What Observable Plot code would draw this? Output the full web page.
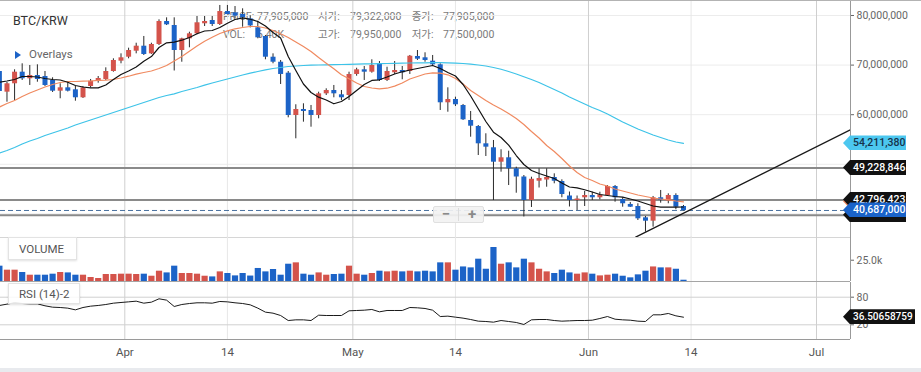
<!DOCTYPE html>
<html><head><meta charset="utf-8">
<script src="https://cdn.jsdelivr.net/npm/d3@7"></script>
<script src="https://cdn.jsdelivr.net/npm/@observablehq/plot@0.6"></script>
<style>
html,body{margin:0;padding:0;background:#fff;}
#chart{position:relative;width:921px;height:372px;overflow:hidden;font-family:Roboto,"Noto Sans CJK KR",sans-serif;}
#chart .abs{position:absolute;white-space:nowrap;}
#chart svg{position:absolute;left:0;}
.info{color:#7a7a7a;font-size:10.5px;line-height:14px;}
.tag{position:absolute;height:15px;line-height:15px;font-size:10.5px;font-weight:500;padding-left:10px;box-sizing:border-box;white-space:nowrap;clip-path:polygon(0 50%,7px 0,100% 0,100% 100%,7px 100%);}
.panelLabel{position:absolute;left:8px;background:rgba(255,255,255,0.85);border:1px solid #e3e3e3;box-shadow:0 1px 2px rgba(0,0,0,0.12);color:#555;font-size:11.5px;box-sizing:border-box;padding-left:10px;}
</style></head>
<body><div id="chart"></div>
<script>
// ---- data (prices in millions KRW, volume in thousands) ----
const open = [68.71,64.54,66.23,68.57,67.24,67.90,67.70,66.90,64.74,65.42,
65.02,63.41,65.69,66.75,67.10,68.71,70.79,71.59,72.80,73.81,
72.27,74.15,78.79,77.98,72.94,75.30,76.31,78.33,78.99,78.18,
80.80,80.54,80.20,79.322,77.52,75.77,71.59,70.58,68.37,59.84,
61.05,60.85,59.84,64.21,64.88,64.01,63.87,68.11,69.05,68.57,
70.26,66.90,68.45,68.91,68.71,71.73,71.47,70.79,70.06,62.40,
63.06,61.86,58.83,57.62,54.13,53.33,50.42,51.31,49.09,47.44,
42.70,46.59,46.83,47.34,46.53,43.61,42.70,43.25,43.71,43.25,
43.71,45.52,42.90,41.90,41.49,39.21,38.53,43.25,42.60,43.71,
41.49];
const high = [69.31,66.49,69.05,70.26,69.92,70.06,68.71,67.44,66.23,66.55,
65.69,65.69,67.10,67.70,69.45,71.27,72.27,73.41,74.41,75.77,
74.41,79.13,79.53,79.53,75.42,76.63,79.80,79.80,79.80,82.02,
82.02,81.81,81.35,79.95,78.85,75.97,72.27,70.93,68.71,62.00,
62.20,61.86,64.54,65.22,65.89,64.88,68.57,69.37,69.72,71.07,
70.72,69.57,70.72,69.72,71.94,72.94,72.48,71.94,70.26,65.42,
63.53,62.06,60.65,57.82,56.15,54.80,52.93,52.64,49.42,47.74,
47.40,49.09,49.09,48.08,46.87,44.41,43.61,44.52,44.37,44.37,
45.72,45.72,43.25,42.30,42.04,39.48,43.51,44.72,44.05,44.05,
41.70];
const low = [64.48,62.52,62.86,66.90,65.89,66.55,65.69,64.48,63.21,64.58,
62.72,63.27,65.42,66.35,66.90,68.57,70.26,71.27,72.27,71.94,
72.14,73.95,77.98,68.81,70.58,73.49,76.11,77.78,77.78,77.98,
80.10,79.33,77.64,77.50,75.30,71.07,70.26,66.09,59.37,55.14,
58.49,57.48,59.17,63.87,63.41,62.86,62.86,67.76,66.90,68.37,
66.69,66.69,68.11,67.04,68.11,70.93,70.58,69.78,60.85,60.50,
61.65,58.83,55.46,51.77,51.57,42.70,48.41,45.72,44.17,39.38,
41.29,45.22,45.38,46.07,43.25,41.39,40.69,41.49,42.70,42.84,
43.51,42.36,41.35,41.29,38.67,36.31,37.32,42.16,42.04,40.83,
40.60];
const close = [64.67,66.23,68.57,67.24,67.90,67.10,65.89,64.74,65.42,64.74,
63.41,65.42,66.75,67.30,68.71,70.93,71.47,72.94,73.81,72.14,
74.15,78.79,78.12,72.94,75.30,76.31,78.53,78.79,78.18,80.80,
80.20,79.86,79.53,77.905,75.50,71.59,70.58,68.11,59.84,61.05,
60.65,59.84,64.21,64.88,64.21,63.41,68.11,69.05,68.57,69.92,
66.90,68.71,68.91,68.45,71.79,71.19,70.93,70.06,62.40,63.06,
62.00,58.97,57.68,54.13,53.45,50.42,51.31,49.09,47.44,42.70,
46.98,47.14,47.34,46.59,43.91,42.70,43.00,43.71,43.25,43.81,
45.52,43.25,42.04,41.35,39.01,38.53,43.25,42.70,43.71,41.35,
40.687];
const volume = [18.0,13.3,13.3,10.6,7.4,7.4,7.4,8.6,10.6,10.1,
7.4,7.4,4.7,3.5,8.2,8.2,8.6,8.6,8.2,8.6,
6.2,12.1,10.1,18.0,9.4,9.4,8.6,6.2,5.4,11.3,
9.4,6.6,9.4,6.4,15.3,11.3,14.1,7.4,20.3,21.9,
8.6,7.4,10.1,7.4,8.2,8.6,18.0,8.6,7.4,9.4,
12.1,11.3,12.1,11.3,12.1,11.3,12.1,11.3,21.9,21.9,
13.3,17.1,16.0,26.2,14.4,39.9,20.3,21.9,16.0,26.2,
21.9,14.4,11.3,9.4,13.3,10.1,8.6,10.1,8.6,6.6,
7.4,8.6,6.2,4.3,7.8,12.1,17.1,16.0,16.0,14.4,
1.5];
const ma5 = [66.55,66.79,67.10,67.70,67.70,67.60,67.30,67.10,67.00,66.55,
65.89,65.58,65.42,65.42,65.99,67.10,68.11,68.81,69.62,70.79,
71.73,73.55,74.50,74.62,75.02,75.57,76.31,76.87,76.98,77.58,
78.45,79.19,79.53,79.25,78.79,77.88,76.57,75.46,71.73,68.91,
66.19,64.48,63.53,62.96,62.20,62.66,63.67,64.88,66.09,66.90,
67.04,67.60,68.21,68.65,69.01,69.31,69.62,69.92,69.31,68.51,
67.80,66.09,63.77,61.19,58.63,56.47,55.40,53.85,51.77,49.96,
48.75,48.15,47.64,47.14,46.23,45.42,45.26,44.86,44.41,43.91,
43.71,43.51,43.37,43.00,42.60,42.10,41.59,41.35,41.35,41.35,
41.39];
const ma20 = [61.55,62.26,62.86,63.67,64.38,64.98,65.58,66.09,66.49,66.69,
66.69,66.75,66.79,66.90,66.96,67.10,67.40,67.76,68.17,68.51,
68.81,69.31,69.92,70.83,71.73,72.80,73.85,74.82,75.62,76.37,
76.91,77.32,77.58,77.78,77.78,77.48,76.98,76.31,75.57,74.66,
73.75,72.74,71.53,70.38,69.25,68.04,67.24,66.39,65.69,65.38,
65.22,65.34,65.75,66.39,67.20,67.70,68.21,68.45,68.37,68.04,
67.30,66.19,64.88,63.87,62.86,61.95,61.15,60.24,59.23,58.02,
56.61,55.30,53.79,52.58,51.17,49.66,48.35,47.34,46.74,46.03,
45.63,45.02,44.62,44.22,43.81,43.51,43.21,43.00,42.84,42.60,
42.44];
const ma60 = [52.28,52.78,53.39,54.09,54.70,55.20,55.81,56.31,56.81,57.32,
57.92,58.43,58.93,59.44,59.94,60.44,60.95,61.45,61.96,62.46,
62.96,63.47,63.87,64.21,64.67,65.08,65.48,65.95,66.39,66.79,
67.20,67.60,68.01,68.37,68.71,69.05,69.31,69.52,69.72,69.82,
69.92,69.98,70.02,70.06,70.10,70.12,70.16,70.20,70.24,70.26,
70.30,70.32,70.36,70.38,70.42,70.44,70.46,70.48,70.48,70.46,
70.40,70.32,70.18,70.02,69.82,69.52,69.17,68.71,68.21,67.64,
67.10,66.49,65.79,65.08,64.38,63.57,62.86,62.16,61.45,60.85,
60.14,59.33,58.53,57.82,57.12,56.51,55.91,55.40,54.90,54.50,
54.21138];
const rsi = [62.0,64.9,67.8,66.3,65.6,65.6,61.3,58.3,57.6,56.2,
52.5,57.6,60.5,62.0,64.1,67.0,68.5,69.9,71.4,67.0,
69.2,76.5,73.6,59.8,64.1,66.3,67.8,67.8,67.0,70.7,
69.9,67.8,66.3,63.4,56.2,47.5,45.3,40.2,29.3,30.8,
30.8,29.3,40.9,40.2,40.2,40.2,50.4,51.1,51.8,53.3,
48.2,51.1,51.1,51.1,57.6,56.9,55.5,51.8,38.0,38.8,
36.6,34.5,31.5,27.9,27.2,25.7,29.3,27.2,25.0,20.7,
30.8,31.5,31.5,29.3,27.9,28.6,29.3,29.3,30.0,33.7,
38.0,32.2,30.8,30.0,27.9,27.2,41.7,41.7,44.6,39.5,
36.50658759];
const levels = [49228846, 42796423, 39740000];
const lastPrice = 40687000;
const trendDates = ["2021-06-07T05:00Z", "2021-07-05T12:00Z"];
const trendValues = [35.31, 56.97];
const tickDates = ["2021-04-01T00:00Z","2021-04-14T12:00Z","2021-05-01T00:00Z","2021-05-14T12:00Z","2021-06-01T00:00Z","2021-06-14T12:00Z","2021-07-01T00:00Z"];
const tickLabels = ["Apr","14","May","14","Jun","14","Jul"];
const priceTicks = [60e6, 70e6, 80e6];
const priceGrid = [40e6, 50e6, 60e6, 70e6, 80e6];
const volumeTicks = [25000];
const rsiTicks = [20, 80];
const hoverIndex = 33;

// ---- build ----
const DAY = 864e5;
const firstCandle = Date.UTC(2021, 2, 15, 12);
const candles = open.map((o, i) => ({
  date: new Date(firstCandle + i * DAY),
  open: o * 1e6, high: high[i] * 1e6, low: low[i] * 1e6, close: close[i] * 1e6,
  volume: volume[i] * 1e3, rsi: rsi[i],
  ma5: ma5[i] * 1e6, ma20: ma20[i] * 1e6, ma60: ma60[i] * 1e6,
  up: close[i] >= o
}));
const ups = candles.filter(d => d.up), downs = candles.filter(d => !d.up);
const trend = trendDates.map((d, i) => ({date: new Date(d), value: trendValues[i] * 1e6}));

const RED = "#d4534b", BLUE = "#1c63c7", CYAN = "#3dc3e8", ORANGE = "#f08a60";
const xDomain = [new Date(Date.UTC(2021, 3, 1) - 16.353 * DAY), new Date(Date.UTC(2021, 6, 1) + 4.4725 * DAY)];
const tickTimes = tickDates.map(s => new Date(s));
const labelByTime = new Map(tickTimes.map((d, i) => [+d, tickLabels[i]]));
const monthLines = tickTimes.filter((d, i) => i % 2 === 0);
const midLines = tickTimes.filter((d, i) => i % 2 === 1);
const style = {background: "transparent", fontFamily: "Roboto, sans-serif"};
const fmt = d3.format(",");
const gridX = () => [Plot.ruleX(midLines, {stroke: "#e7e7e7"}), Plot.ruleX(monthLines, {stroke: "#cfcfcf"})];

const priceDomain = [35.24e6, 83.024e6];
const price = Plot.plot({
  width: 921, height: 238, marginLeft: 0, marginRight: 71, marginTop: 0, marginBottom: 1, style,
  x: {type: "utc", domain: xDomain, axis: null},
  y: {domain: priceDomain, axis: null},
  marks: [
    Plot.ruleY(priceGrid, {stroke: "#ececec"}),
    ...gridX(),
    Plot.ruleY(levels, {stroke: "#8a8a8a", strokeWidth: 2}),
    Plot.ruleY([lastPrice], {stroke: "#4a72a0", strokeDasharray: "5,3"}),
    Plot.ruleX(candles, {x: "date", y1: "low", y2: "high", stroke: "#2a2a2a", strokeWidth: 1}),
    Plot.ruleX(ups, {x: "date", y1: "open", y2: "close", stroke: RED, strokeWidth: 5}),
    Plot.ruleX(downs, {x: "date", y1: "open", y2: "close", stroke: BLUE, strokeWidth: 5}),
    Plot.line(candles, {x: "date", y: "ma60", stroke: CYAN, strokeWidth: 1.2}),
    Plot.line(candles, {x: "date", y: "ma20", stroke: ORANGE, strokeWidth: 1.2}),
    Plot.line(candles, {x: "date", y: "ma5", stroke: "#111", strokeWidth: 1.2}),
    Plot.line(trend, {x: "date", y: "value", stroke: "#1a1a1a", strokeWidth: 1.3, clip: true}),
    Plot.ruleY([priceDomain[0]], {stroke: "#d6d6d6"}),
    Plot.ruleX([xDomain[1]], {stroke: "#999"}),
    Plot.axisY({anchor: "right", label: null, ticks: priceTicks, tickFormat: fmt, tickSize: 3, tickPadding: 3, fontSize: 10.5, color: "#666"})
  ]
});

const volDomain = [0, 52830];
const vol = Plot.plot({
  width: 921, height: 46, marginLeft: 0, marginRight: 71, marginTop: 0, marginBottom: 1, style,
  x: {type: "utc", domain: xDomain, axis: null},
  y: {domain: volDomain, axis: null},
  marks: [
    ...gridX(),
    Plot.ruleX(ups, {x: "date", y1: 0, y2: "volume", stroke: RED, strokeWidth: 6.2}),
    Plot.ruleX(downs, {x: "date", y1: 0, y2: "volume", stroke: BLUE, strokeWidth: 6.2}),
    Plot.ruleY([0], {stroke: "#a5a5a5"}),
    Plot.ruleX([xDomain[1]], {stroke: "#999"}),
    Plot.axisY({anchor: "right", label: null, ticks: volumeTicks, tickFormat: d => (d / 1000).toFixed(1) + "k", tickSize: 3, tickPadding: 3, fontSize: 10.5, color: "#666"})
  ]
});

const rsiDomain = [-11.96, 111.96];
const rsiPlot = Plot.plot({
  width: 921, height: 90, marginLeft: 0, marginRight: 71, marginTop: 0, marginBottom: 33, style,
  x: {type: "utc", domain: xDomain, axis: null},
  y: {domain: rsiDomain, axis: null},
  marks: [
    ...gridX(),
    Plot.ruleY(rsiTicks, {stroke: "#d0d0d0"}),
    Plot.line(candles, {x: "date", y: "rsi", stroke: "#1a1a1a", strokeWidth: 1}),
    Plot.ruleY([rsiDomain[0]], {stroke: "#9a9a9a"}),
    Plot.ruleX([xDomain[1]], {stroke: "#999"}),
    Plot.axisY({anchor: "right", label: null, ticks: rsiTicks, tickSize: 3, tickPadding: 3, fontSize: 10.5, color: "#666"}),
    Plot.axisX({label: null, ticks: tickTimes, tickFormat: d => labelByTime.get(+d), tickSize: 0, tickPadding: 8, fontSize: 11.5, color: "#555"})
  ]
});

// ---- compose ----
const chart = document.getElementById("chart");
function div(cls, css, html) {
  const e = document.createElement("div");
  if (cls) e.className = cls;
  e.style.cssText = css;
  if (html != null) e.innerHTML = html;
  chart.appendChild(e);
  return e;
}

// info text (under the candles)
const h = candles[hoverIndex];
const M = v => fmt(Math.round(v));
const infoRows = [
  [["PRICE:", M(h.close)], ["시가:", M(h.open)], ["종가:", M(h.close)]],
  [["VOL:", (h.volume / 1000).toFixed(2) + "K"], ["고가:", M(h.high)], ["저가:", M(h.low)]]
];
const infoLabelX = [223, 318, 411.7], infoValueX = [257, 350, 443], infoRowY = [10.3, 27.7];
infoRows.forEach((row, r) => row.forEach(([lab, val], c) => {
  div("abs info", `left:${infoLabelX[c]}px;top:${infoRowY[r]}px;`, lab);
  div("abs info", `left:${infoValueX[c]}px;top:${infoRowY[r]}px;`, val);
}));

price.style.top = "0px"; chart.appendChild(price);
vol.style.top = "236px"; chart.appendChild(vol);
rsiPlot.style.top = "282px"; chart.appendChild(rsiPlot);

div("abs", "left:0;top:0;width:921px;height:1px;background:#b3b3b3;");
div("abs", "left:0;top:368px;width:921px;height:4px;background:#e8eaee;");
div("abs", "left:13px;top:12.5px;font-size:12.5px;line-height:16px;color:#333;", "BTC/KRW");
div("abs", "left:15px;top:50.5px;width:0;height:0;border-top:4px solid transparent;border-bottom:4px solid transparent;border-left:6px solid #1c63c7;");
div("abs", "left:29px;top:47px;font-size:11.5px;line-height:15px;color:#666;", "Overlays");

// zoom control
div("abs", "left:433px;top:206px;width:51px;height:17px;background:rgba(242,242,242,0.92);border:1px solid #e0e0e0;border-radius:2px;box-sizing:border-box;");
div("abs", "left:458px;top:208px;width:1px;height:13px;background:#dcdcdc;");
div("abs", "left:440px;top:206px;width:12px;text-align:center;font-size:15px;line-height:16px;font-weight:bold;color:#8a8a8a;", "−");
div("abs", "left:466px;top:206px;width:12px;text-align:center;font-size:15px;line-height:16px;font-weight:bold;color:#8a8a8a;", "+");

// panel labels
div("panelLabel", "top:237px;width:69px;height:23px;line-height:22px;", "VOLUME");
div("panelLabel", "top:283px;width:72px;height:21px;line-height:20px;", "RSI (14)-2");

// right-side value tags, positioned with the plots' own scales
const py = price.scale("y"), ry = rsiPlot.scale("y");
function tag(y, text, bg, fg, w, fs) {
  div("tag", `left:843px;top:${y - 7.5}px;width:${w}px;background:${bg};color:${fg};${fs ? "font-size:" + fs + "px;" : ""}`, text);
}
tag(py.apply(ma60[ma60.length - 1] * 1e6), fmt(Math.round(ma60[ma60.length - 1] * 1e6)), "#4cc7ef", "#17324a", 63);
tag(py.apply(ma20[ma20.length - 1] * 1e6), "", ORANGE, "#fff", 63);
tag(py.apply(levels[1]), fmt(levels[1]), "#111", "#fff", 63);
tag(py.apply(levels[2]), "", "#111", "#fff", 63);
tag(py.apply(levels[0]), fmt(levels[0]), "#111", "#fff", 63);
tag(py.apply(lastPrice), fmt(lastPrice), "#1a63c9", "#fff", 63);
tag(282 + ry.apply(rsi[rsi.length - 1]), String(rsi[rsi.length - 1]), "#111", "#fff", 72, 10);
</script></body></html>
